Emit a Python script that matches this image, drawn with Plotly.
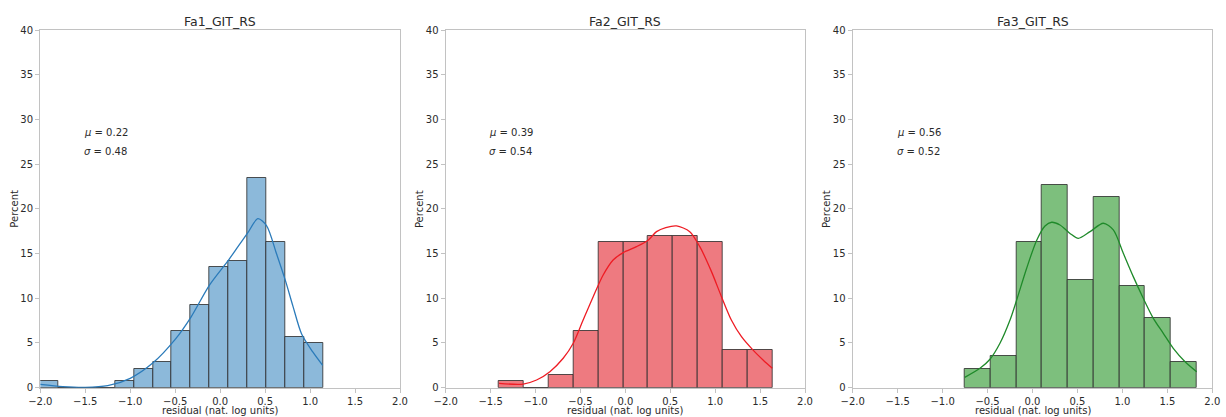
import plotly.graph_objects as go

# ---- histogram data (percent of samples per bin) ----
titles = ["Fa1_GIT_RS", "Fa2_GIT_RS", "Fa3_GIT_RS"]

fa1_bin_start = -2.012
fa1_bin_width = 0.2105
fa1_percent = [0.71, 0.0, 0.0, 0.0, 0.71, 2.13, 2.84, 6.38, 9.22, 13.48, 14.18, 23.40, 16.31, 5.67, 4.96]

fa2_bin_start = -1.406
fa2_bin_width = 0.2766
fa2_percent = [0.71, 0.0, 1.42, 6.38, 16.31, 16.31, 17.02, 17.02, 16.31, 4.26, 4.26]

fa3_bin_start = -0.754
fa3_bin_width = 0.2866
fa3_percent = [2.13, 3.55, 16.31, 22.70, 12.06, 21.28, 11.35, 7.80, 2.84]

# ---- kernel density curves (percent scale) ----
fa1_kde_x = [-2.0, -1.75, -1.5, -1.25, -1.0, -0.75, -0.5, -0.324, -0.117, 0.095, 0.2, 0.306,
             0.42, 0.517, 0.626, 0.725, 0.81, 0.906, 1.03, 1.14]
fa1_kde_y = [0.38, 0.12, 0.03, 0.22, 1.05, 2.75, 5.4, 7.9, 11.5, 14.3, 15.8, 17.3,
             18.9, 18.1, 15.0, 12.0, 9.1, 6.0, 4.0, 2.5]

fa2_kde_x = [-1.406, -1.137, -0.988, -0.84, -0.692, -0.58, -0.47, -0.358, -0.247, -0.136, -0.024,
             0.124, 0.254, 0.347, 0.45, 0.57, 0.717, 0.829, 0.959, 1.07, 1.18, 1.293, 1.422,
             1.533, 1.636]
fa2_kde_y = [0.48, 0.41, 0.86, 1.79, 3.29, 4.97, 7.57, 10.18, 12.6, 14.28, 15.1,
             15.77, 16.5, 17.45, 17.9, 18.09, 17.45, 15.77, 12.98, 10.18, 7.57, 5.7, 4.2,
             3.1, 2.17]

fa3_kde_x = [-0.754, -0.584, -0.473, -0.362, -0.25, -0.176, -0.065, 0.047, 0.139, 0.213, 0.306,
             0.417, 0.51, 0.64, 0.788, 0.899, 1.01, 1.121, 1.232, 1.344, 1.455, 1.566, 1.697, 1.826]
fa3_kde_y = [1.16, 2.17, 3.18, 4.97, 7.57, 9.81, 13.36, 16.5, 18.09, 18.5, 18.2,
             17.25, 16.7, 17.45, 18.39, 17.64, 15.03, 12.42, 10.0, 7.76, 6.08, 4.4, 2.91, 1.79]

# ---- summary statistics ----
mu_values = [0.22, 0.39, 0.56]
sigma_values = [0.48, 0.54, 0.52]

x_ticks = [-2.0, -1.5, -1.0, -0.5, 0.0, 0.5, 1.0, 1.5, 2.0]
y_ticks = [0, 5, 10, 15, 20, 25, 30, 35, 40]

# ---- styling ----
W, H = 1226, 417
FONT = "DejaVu Sans"
TEXT = "#2a2a2a"
SPINE = "#c2c2c2"
fills = ["#8cb9da", "#ee7a80", "#7dbf7d"]
lines = ["#2b7bba", "#ee1c24", "#1f8a2a"]
edge = "rgba(40,40,40,0.8)"

x_px = [(40.3, 400.0), (445.7, 805.0), (852.7, 1212.3)]
top_px, bottom_px = 30.0, 387.7

panels = [
    (fa1_bin_start, fa1_bin_width, fa1_percent, fa1_kde_x, fa1_kde_y),
    (fa2_bin_start, fa2_bin_width, fa2_percent, fa2_kde_x, fa2_kde_y),
    (fa3_bin_start, fa3_bin_width, fa3_percent, fa3_kde_x, fa3_kde_y),
]

fig = go.Figure()
annotations = []
layout_axes = {}

for i, (b0, bw, pct, kx, ky) in enumerate(panels):
    n = i + 1
    xa = "x" if n == 1 else f"x{n}"
    ya = "y" if n == 1 else f"y{n}"
    centers = [b0 + bw * (k + 0.5) for k in range(len(pct))]

    fig.add_trace(go.Bar(
        x=centers, y=pct, width=bw,
        marker=dict(color=fills[i], line=dict(color=edge, width=1)),
        xaxis=xa, yaxis=ya, showlegend=False, hoverinfo="skip",
    ))
    fig.add_trace(go.Scatter(
        x=kx, y=ky, mode="lines", line=dict(color=lines[i], width=1.3, shape="spline", smoothing=0.8),
        xaxis=xa, yaxis=ya, showlegend=False, hoverinfo="skip",
    ))

    left, right = x_px[i]
    dom_x = [left / W, right / W]
    dom_y = [1 - bottom_px / H, 1 - top_px / H]
    axis_common = dict(
        showgrid=False, zeroline=False, showline=True, mirror=True, automargin=False,
        linecolor=SPINE, linewidth=1.4, ticks="outside", ticklen=4, tickwidth=1,
        tickcolor=SPINE, tickfont=dict(family=FONT, size=10, color=TEXT),
    )
    layout_axes["xaxis" if n == 1 else f"xaxis{n}"] = dict(
        domain=dom_x, range=[-2.0, 2.0], tickvals=x_ticks, tickformat=".1f",
        anchor=ya, **axis_common)
    layout_axes["yaxis" if n == 1 else f"yaxis{n}"] = dict(
        domain=dom_y, range=[0, 40], tickvals=y_ticks,
        anchor=xa, **axis_common)

    cx = (left + right) / 2 / W
    annotations.append(dict(text=titles[i], x=cx, y=1 - 21.7 / H, xref="paper", yref="paper",
                            xanchor="center", yanchor="middle", showarrow=False,
                            font=dict(family=FONT, size=12.5, color=TEXT)))
    annotations.append(dict(text="residual (nat. log units)", x=cx, y=1 - 410.5 / H,
                            xref="paper", yref="paper", xanchor="center", yanchor="middle",
                            showarrow=False, font=dict(family=FONT, size=10, color=TEXT)))
    annotations.append(dict(text="Percent", x=(left - 25.5) / W, y=1 - (top_px + bottom_px) / 2 / H,
                            xref="paper", yref="paper", xanchor="center", yanchor="middle",
                            textangle=-90, showarrow=False,
                            font=dict(family=FONT, size=10, color=TEXT)))
    annotations.append(dict(text=f"<i>μ</i> = {mu_values[i]:.2f}", x=-1.535, y=28.5,
                            xref=xa, yref=ya, xanchor="left", yanchor="middle", showarrow=False,
                            font=dict(family=FONT, size=10, color=TEXT)))
    annotations.append(dict(text=f"<i>σ</i> = {sigma_values[i]:.2f}", x=-1.535, y=26.4,
                            xref=xa, yref=ya, xanchor="left", yanchor="middle", showarrow=False,
                            font=dict(family=FONT, size=10, color=TEXT)))

fig.update_layout(
    width=W, height=H, margin=dict(l=0, r=0, t=0, b=0),
    paper_bgcolor="white", plot_bgcolor="white",
    bargap=0, annotations=annotations, font=dict(family=FONT),
    **layout_axes,
)

fig.write_html("out.html")
